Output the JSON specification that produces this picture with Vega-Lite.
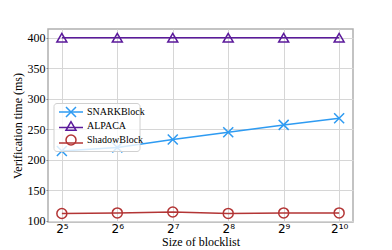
{
  "$schema": "https://vega.github.io/schema/vega-lite/v6.json",
  "width": 305,
  "height": 193,
  "autosize": "none",
  "padding": {"left": 48, "top": 29, "right": 39, "bottom": 28},
  "config": {
    "view": {"stroke": "#b0b0b0", "strokeWidth": 1.5},
    "axis": {
      "grid": true,
      "gridColor": "#d6d6d6",
      "gridWidth": 1,
      "domain": false,
      "tickColor": "#888888",
      "tickSize": 2,
      "labelColor": "#000000",
      "titleColor": "#000000",
      "titleFont": "Liberation Serif",
      "titleFontSize": 12,
      "titleFontWeight": "normal"
    }
  },
  "data": {
    "values": [
      {"series": "SNARKBlock", "size": 32, "time": 214},
      {"series": "SNARKBlock", "size": 64, "time": 220},
      {"series": "SNARKBlock", "size": 128, "time": 233},
      {"series": "SNARKBlock", "size": 256, "time": 245},
      {"series": "SNARKBlock", "size": 512, "time": 257},
      {"series": "SNARKBlock", "size": 1024, "time": 268},
      {"series": "ALPACA", "size": 32, "time": 400},
      {"series": "ALPACA", "size": 64, "time": 400},
      {"series": "ALPACA", "size": 128, "time": 400},
      {"series": "ALPACA", "size": 256, "time": 400},
      {"series": "ALPACA", "size": 512, "time": 400},
      {"series": "ALPACA", "size": 1024, "time": 400},
      {"series": "ShadowBlock", "size": 32, "time": 111.5},
      {"series": "ShadowBlock", "size": 64, "time": 112.5},
      {"series": "ShadowBlock", "size": 128, "time": 114},
      {"series": "ShadowBlock", "size": 256, "time": 111.7},
      {"series": "ShadowBlock", "size": 512, "time": 112.5},
      {"series": "ShadowBlock", "size": 1024, "time": 112.5}
    ]
  },
  "encoding": {
    "x": {
      "field": "size",
      "type": "quantitative",
      "scale": {"type": "log", "base": 2, "domain": [26.91, 1217.75], "nice": false},
      "axis": {
        "title": "Size of blocklist",
        "values": [32, 64, 128, 256, 512, 1024],
        "labelExpr": "datum.value == 32 ? '2⁵' : datum.value == 64 ? '2⁶' : datum.value == 128 ? '2⁷' : datum.value == 256 ? '2⁸' : datum.value == 512 ? '2⁹' : '2¹⁰'",
        "labelFont": "DejaVu Sans",
        "labelFontSize": 12,
        "labelPadding": 1,
        "ticks": false,
        "titlePadding": 2
      }
    },
    "y": {
      "field": "time",
      "type": "quantitative",
      "scale": {"domain": [97.6, 414.4], "nice": false, "zero": false},
      "axis": {
        "title": "Verification time (ms)",
        "values": [100, 150, 200, 250, 300, 350, 400],
        "labelFont": "Liberation Serif",
        "labelFontSize": 12,
        "labelPadding": 1,
        "titlePadding": 3
      }
    }
  },
  "layer": [
    {
      "mark": {"type": "line", "strokeWidth": 1.5},
      "encoding": {
        "color": {
          "field": "series",
          "type": "nominal",
          "scale": {"domain": ["SNARKBlock", "ALPACA", "ShadowBlock"], "range": ["#2e9bf2", "#5b1a9b", "#b33535"]},
          "legend": {
            "title": null,
            "orient": "none",
            "legendX": 5.5,
            "legendY": 74,
            "symbolType": "M-0.7,0L4.1,0",
            "symbolSize": 100,
            "symbolStrokeWidth": 1.5,
            "symbolFillColor": "transparent",
            "labelOpacity": 0,
            "labelExpr": "datum.label + '       '",
            "labelFont": "Liberation Serif",
            "labelFontSize": 10,
            "labelOffset": 10,
            "rowPadding": 4.5,
            "padding": 3,
            "strokeColor": "#d0d0d0",
            "fillColor": "rgba(255,255,255,0.8)",
            "cornerRadius": 3
          }
        }
      }
    },
    {
      "mark": {"type": "point", "filled": false, "strokeWidth": 1.5, "size": 100, "opacity": 1},
      "encoding": {
        "color": {
          "field": "series",
          "type": "nominal",
          "scale": {"domain": ["SNARKBlock", "ALPACA", "ShadowBlock"], "range": ["#2e9bf2", "#5b1a9b", "#b33535"]},
          "legend": {
            "title": null,
            "orient": "none",
            "legendX": 17,
            "legendY": 77,
            "symbolStrokeWidth": 1.5,
            "symbolSize": 100,
            "symbolFillColor": "transparent",
            "labelFont": "Liberation Serif",
            "labelFontSize": 10,
            "labelColor": "#000000",
            "labelOffset": 10,
            "rowPadding": -2,
            "padding": 0
          }
        },
        "shape": {
          "field": "series",
          "type": "nominal",
          "scale": {"domain": ["SNARKBlock", "ALPACA", "ShadowBlock"], "range": ["M-1,-1L1,1M-1,1L1,-1", "triangle-up", "circle"]},
          "legend": {
            "title": null,
            "orient": "none",
            "legendX": 17,
            "legendY": 77,
            "symbolStrokeWidth": 1.5,
            "symbolSize": 100,
            "symbolFillColor": "transparent",
            "labelFont": "Liberation Serif",
            "labelFontSize": 10,
            "labelColor": "#000000",
            "labelOffset": 10,
            "rowPadding": -2,
            "padding": 0
          }
        }
      }
    }
  ],
  "resolve": {
    "scale": {"color": "independent", "shape": "independent"},
    "legend": {"color": "independent", "shape": "independent"}
  }
}
